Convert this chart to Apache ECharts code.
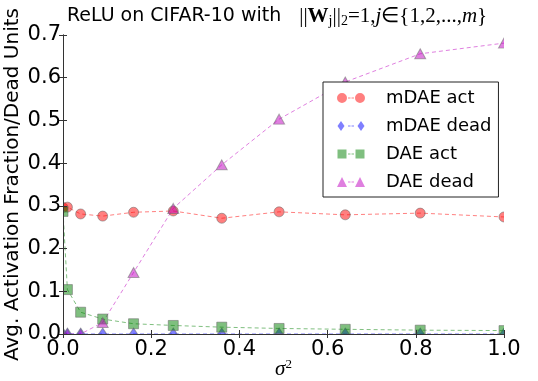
<!DOCTYPE html>
<html>
<head>
<meta charset="utf-8">
<script src="https://cdn.jsdelivr.net/npm/echarts@6/dist/echarts.min.js"></script>
<style>
  html, body { margin: 0; padding: 0; background: #fff; }
  #chart { width: 538px; height: 381px; }
</style>
</head>
<body>
<div id="chart"></div>
<script>
// sigma^2 values on the x axis
var sigma2 = [0, 0.01, 0.04, 0.09, 0.16, 0.25, 0.36, 0.49, 0.64, 0.81, 1.0];
var mdaeAct = [0.296, 0.297, 0.281, 0.276, 0.285, 0.288, 0.271, 0.286, 0.279, 0.283, 0.274];
var mdaeDead = [0, 0, 0, 0, 0, 0, 0, 0, 0, 0, 0];
var daeAct = [0.287, 0.104, 0.051, 0.035, 0.024, 0.020, 0.016, 0.013, 0.011, 0.009, 0.008];
var daeDead = [0, 0, 0, 0.027, 0.144, 0.294, 0.396, 0.503, 0.590, 0.656, 0.681];

function pairs(ys) {
  return sigma2.map(function (x, i) { return [x, ys[i]]; });
}

// legend icons: marker - - marker
var dashes = ' M11,4.5 H13.5 V5.5 H11 Z M14.5,4.5 H17 V5.5 H14.5 Z';
var iconCircle = 'path://M0,5 A5,5 0 1,1 10,5 A5,5 0 1,1 0,5 Z M18,5 A5,5 0 1,1 28,5 A5,5 0 1,1 18,5 Z' + dashes;
var iconDiamond = 'path://M4,0 L7.5,5 L4,10 L0.5,5 Z M24,0 L27.5,5 L24,10 L20.5,5 Z M0,5 L0,5 M28,5 L28,5' + dashes;
var iconSquare = 'path://M0.5,0.5 H9.5 V9.5 H0.5 Z M18.5,0.5 H27.5 V9.5 H18.5 Z M0,0 L0,0 M28,10 L28,10' + dashes;
var iconTri = 'path://M5,0 L10,10 L0,10 Z M23,0 L28,10 L18,10 Z' + dashes;

var edge = 'rgba(110,110,110,0.55)';

function mkSeries(name, ys, color, symbol, size) {
  return {
    name: name,
    type: 'line',
    data: pairs(ys),
    symbol: symbol,
    symbolSize: size,
    showAllSymbol: true,
    clip: false,
    lineStyle: { color: color, width: 1, type: [4, 3] },
    itemStyle: { color: color, borderColor: edge, borderWidth: 1, opacity: 1 },
    emphasis: { disabled: true },
    z: 2
  };
}

var chart = echarts.init(document.getElementById('chart'));
var axisCol = '#333';
var option = {
  animation: false,
  backgroundColor: '#fff',
  title: {
    text: '{s|ReLU on CIFAR-10 with}||{b|W}{sub|j}||{sub|2}=1,{i|j}\u2208{1,2,...,{i|m}}',
    left: 62,
    top: 0,
    textStyle: {
      fontFamily: 'Liberation Serif',
      fontSize: 21,
      fontWeight: 'normal',
      color: '#000',
      rich: {
        s: { fontFamily: 'DejaVu Sans', fontSize: 19, color: '#000', padding: [0, 18, 0, 0] },
        b: { fontFamily: 'Liberation Serif', fontSize: 21, fontWeight: 'bold', color: '#000' },
        i: { fontFamily: 'Liberation Serif', fontSize: 21, fontStyle: 'italic', color: '#000' },
        sub: { fontFamily: 'Liberation Serif', fontSize: 14, color: '#000', padding: [9, 0, 0, 0] }
      }
    }
  },
  legend: {
    orient: 'vertical',
    left: 323,
    top: 82,
    padding: [7, 7, 6, 14],
    itemWidth: 28,
    itemHeight: 10,
    itemGap: 10,
    backgroundColor: '#fff',
    borderColor: '#222',
    borderWidth: 1,
    itemStyle: { borderWidth: 0 },
    textStyle: { fontFamily: 'DejaVu Sans', fontSize: 18, color: '#000', lineHeight: 18, padding: [0, 0, 0, 16] },
    data: [
      { name: 'mDAE act', icon: iconCircle },
      { name: 'mDAE dead', icon: iconDiamond },
      { name: 'DAE act', icon: iconSquare },
      { name: 'DAE dead', icon: iconTri }
    ]
  },
  grid: {
    left: 63, right: 34, top: 35, bottom: 47,
    containLabel: false,
    outerBoundsMode: 'none'
  },
  xAxis: [{
    type: 'value',
    min: 0, max: 1, interval: 0.2,
    name: '{i|\u03c3}{sup|2}',
    nameLocation: 'middle',
    nameGap: 24,
    nameMoveOverlap: false,
    nameTextStyle: {
      rich: {
        i: { fontFamily: 'Liberation Serif', fontStyle: 'italic', fontSize: 21, color: '#000' },
        sup: { fontFamily: 'Liberation Serif', fontSize: 13, color: '#000', padding: [0, 0, 9, 0] }
      }
    },
    z: 5,
    axisLine: { lineStyle: { color: axisCol, width: 1 } },
    axisTick: { inside: true, length: 4, lineStyle: { color: axisCol } },
    axisLabel: {
      fontFamily: 'DejaVu Sans', fontSize: 21, color: '#000', margin: 5,
      formatter: function (v) { return v.toFixed(1); }
    },
    splitLine: { show: false }
  }, {
    type: 'value', position: 'top',
    min: 0, max: 1, interval: 0.2,
    z: 5,
    axisLine: { lineStyle: { color: axisCol, width: 1 } },
    axisTick: { inside: true, length: 4, lineStyle: { color: axisCol } },
    axisLabel: { show: false },
    splitLine: { show: false }
  }],
  yAxis: [{
    type: 'value',
    min: 0, max: 0.7, interval: 0.1,
    name: 'Avg. Activation Fraction/Dead Units',
    nameLocation: 'middle',
    nameGap: 40,
    nameMoveOverlap: false,
    nameTextStyle: { fontFamily: 'DejaVu Sans', fontSize: 20, color: '#000' },
    z: 5,
    axisLine: { lineStyle: { color: axisCol, width: 1 } },
    axisTick: { inside: true, length: 4, lineStyle: { color: axisCol } },
    axisLabel: {
      fontFamily: 'DejaVu Sans', fontSize: 21, color: '#000', margin: 2,
      formatter: function (v) { return v.toFixed(1); }
    },
    splitLine: { show: false }
  }, {
    type: 'value', position: 'right',
    min: 0, max: 0.7, interval: 0.1,
    z: 5,
    axisLine: { lineStyle: { color: axisCol, width: 1 } },
    axisTick: { inside: true, length: 4, lineStyle: { color: axisCol } },
    axisLabel: { show: false },
    splitLine: { show: false }
  }],
  // white strips just outside the frame, so markers on the edge look clipped
  graphic: [
    { type: 'rect', z: 3, silent: true, shape: { x: 30, y: 334, width: 500, height: 8 }, style: { fill: '#fff' } },
    { type: 'rect', z: 3, silent: true, shape: { x: 504, y: 25, width: 10, height: 317 }, style: { fill: '#fff' } },
    { type: 'rect', z: 3, silent: true, shape: { x: 54, y: 25, width: 9, height: 317 }, style: { fill: '#fff' } }
  ],
  series: [
    mkSeries('mDAE act', mdaeAct, 'rgba(255,0,0,0.5)', 'circle', 10),
    mkSeries('mDAE dead', mdaeDead, 'rgba(0,0,255,0.5)', 'diamond', [8, 12]),
    mkSeries('DAE act', daeAct, 'rgba(0,128,0,0.5)', 'rect', 10),
    mkSeries('DAE dead', daeDead, 'rgba(191,0,191,0.5)', 'triangle', [11, 10])
  ]
};
chart.setOption(option);
</script>
</body>
</html>
